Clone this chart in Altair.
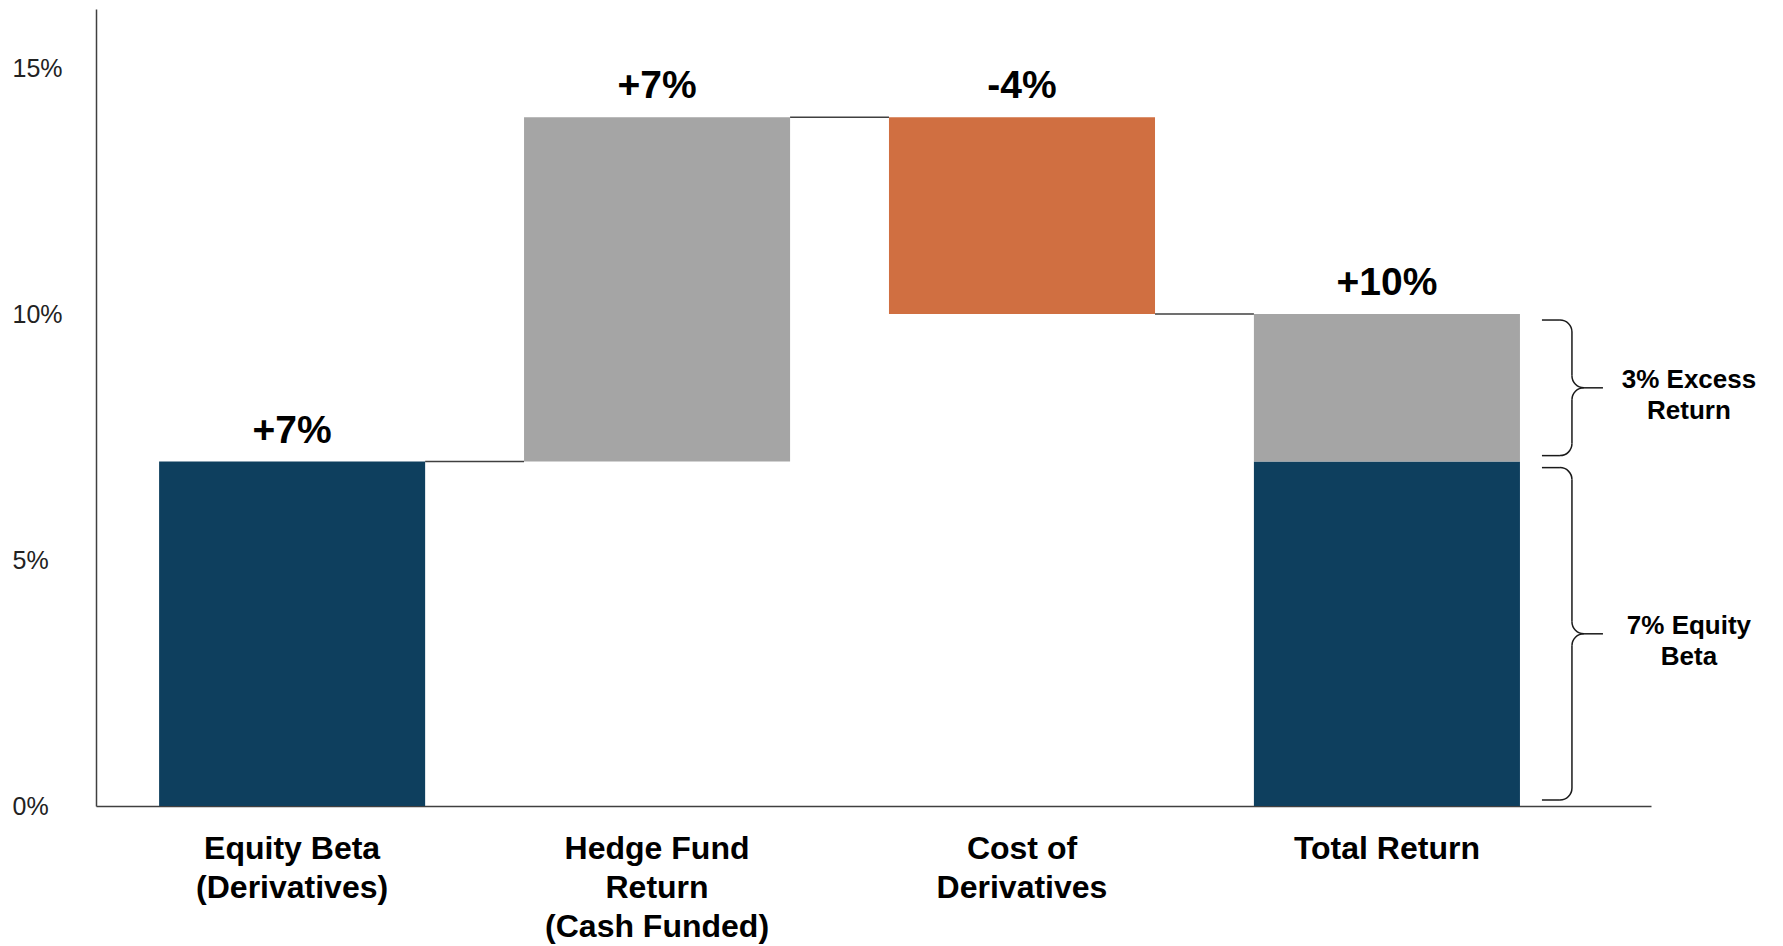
import altair as alt
import pandas as pd

# ---------------- data ----------------
categories = ["Equity Beta\n(Derivatives)", "Hedge Fund\nReturn\n(Cash Funded)",
              "Cost of\nDerivatives", "Total Return"]

seg_category = [categories[0], categories[1], categories[2], categories[3], categories[3]]
seg_start = [0, 7, 14, 0, 7]
seg_end = [7, 14, 10, 7, 10]
seg_kind = ["Equity Beta", "Hedge Fund", "Cost", "Equity Beta", "Hedge Fund"]

label_text = ["+7%", "+7%", "-4%", "+10%"]
label_level = [7, 14, 14, 10]

conn_from = categories[:3]
conn_to = categories[1:]
conn_level = [7, 14, 10]

brace_low = [7, 0]
brace_high = [10, 7]
brace_text = [["3% Excess", "Return"], ["7% Equity", "Beta"]]

y_ticks = [0, 5, 10, 15]
kind_domain = ["Equity Beta", "Hedge Fund", "Cost"]
kind_colors = ["#0E3F5E", "#A5A5A5", "#D06F41"]

# ---------------- styles ----------------
FONT = "Liberation Sans"
INK = "#1a1a1a"
LINE = "#404040"
S, R, E, HOOK, TIP = 52, 12, 6, 22, 83   # brace geometry offsets (px)
SW = 1.5

xscale = alt.Scale(domain=categories, paddingInner=0.271, paddingOuter=0.266, align=0.325)
yscale = alt.Scale(domain=[0, 16.2], nice=False, zero=False)

x_axis = alt.Axis(title=None, labelAngle=0, labelAlign="center", labelBaseline="top",
                  labelExpr="split(datum.value, '\\n')",
                  labelFont=FONT, labelFontSize=32, labelFontWeight="bold", labelColor="black",
                  labelLineHeight=39, labelPadding=27, labelLimit=500, ticks=False, tickSize=0,
                  domainColor=LINE, domainWidth=1.5, grid=False)
y_axis = alt.Axis(title=None, values=y_ticks, labelExpr="datum.value + '%'",
                  labelFont=FONT, labelFontSize=25, labelColor="#222222", labelAlign="left",
                  labelPadding=84, ticks=False, tickSize=0, grid=False,
                  domainColor=LINE, domainWidth=1.5)

# ---------------- layers ----------------
bars_df = pd.DataFrame({"cat": seg_category, "start": seg_start, "end": seg_end, "kind": seg_kind})
bars = alt.Chart(bars_df).mark_bar().encode(
    x=alt.X("cat:N", scale=xscale, axis=x_axis, title=None),
    y=alt.Y("start:Q", scale=yscale, axis=y_axis, title=None),
    y2=alt.Y2("end:Q"),
    color=alt.Color("kind:N", scale=alt.Scale(domain=kind_domain, range=kind_colors), legend=None),
)

conn_df = pd.DataFrame({"from": conn_from, "to": conn_to, "level": conn_level})
connectors = alt.Chart(conn_df).mark_rule(color=LINE, strokeWidth=1.5).encode(
    x=alt.X("from:N", bandPosition=1, title=None),
    x2=alt.X2("to:N", bandPosition=0),
    y=alt.Y("level:Q", title=None),
)

lab_df = pd.DataFrame({"cat": categories, "text": label_text, "level": label_level})
labels = alt.Chart(lab_df).mark_text(
    font=FONT, fontSize=39, fontWeight="bold", baseline="alphabetic", dy=-19, color="black"
).encode(
    x=alt.X("cat:N", title=None),
    y=alt.Y("level:Q", title=None),
    text="text:N",
)

brace_df = pd.DataFrame({"anchor": [categories[3]] * len(brace_low), "low": brace_low,
                         "high": brace_high, "text": brace_text})
base = alt.Chart(brace_df).transform_calculate(mid="(datum.low + datum.high) / 2")
ax = alt.X("anchor:N", bandPosition=1, title=None)


def hrule(col, x0, x1, yoff):
    return base.mark_rule(color=INK, strokeWidth=SW, xOffset=x0, x2Offset=x1, yOffset=yoff).encode(
        x=ax, x2=alt.X2("anchor:N", bandPosition=1),
        y=alt.Y(f"{col}:Q", title=None, stack=None))


def vrule(c1, o1, c2, o2):
    return base.mark_rule(color=INK, strokeWidth=SW, xOffset=S, yOffset=o1, y2Offset=o2).encode(
        x=ax, y=alt.Y(f"{c1}:Q", title=None, stack=None), y2=alt.Y2(f"{c2}:Q"))


def arc(col, xoff, yoff, t1, t2):
    return base.mark_arc(color=INK, radius=R + SW / 2, radius2=R - SW / 2, theta=t1, theta2=t2,
                         xOffset=xoff, yOffset=yoff).encode(
        x=ax, y=alt.Y(f"{col}:Q", title=None, stack=None))


PI = 3.141592653589793
brace_parts = [
    hrule("high", HOOK, S - R, E),
    arc("high", S - R, E + R, 0, PI / 2),
    vrule("high", E + R, "mid", -R),
    arc("mid", S + R, -R, PI, 1.5 * PI),
    arc("mid", S + R, R, 1.5 * PI, 2 * PI),
    hrule("mid", S + R, TIP, 0),
    vrule("mid", R, "low", -(E + R)),
    arc("low", S - R, -(E + R), PI / 2, PI),
    hrule("low", HOOK, S - R, -E),
]

brace_labels = base.mark_text(
    font=FONT, fontSize=26, fontWeight="bold", lineHeight=31, baseline="middle",
    align="center", dx=169, dy=-8, color="black"
).encode(x=ax, y=alt.Y("mid:Q", title=None, stack=None), text="text")

chart = alt.layer(connectors, bars, labels, *brace_parts, brace_labels).properties(
    width=1555, height=797,
    autosize=alt.AutoSizeParams(type="none"),
    padding={"left": 88, "top": 1, "right": 120, "bottom": 138},
).configure(font=FONT).configure_view(strokeWidth=0, stroke=None)

chart.save("out.html", embed_options={"renderer": "svg", "actions": False})
